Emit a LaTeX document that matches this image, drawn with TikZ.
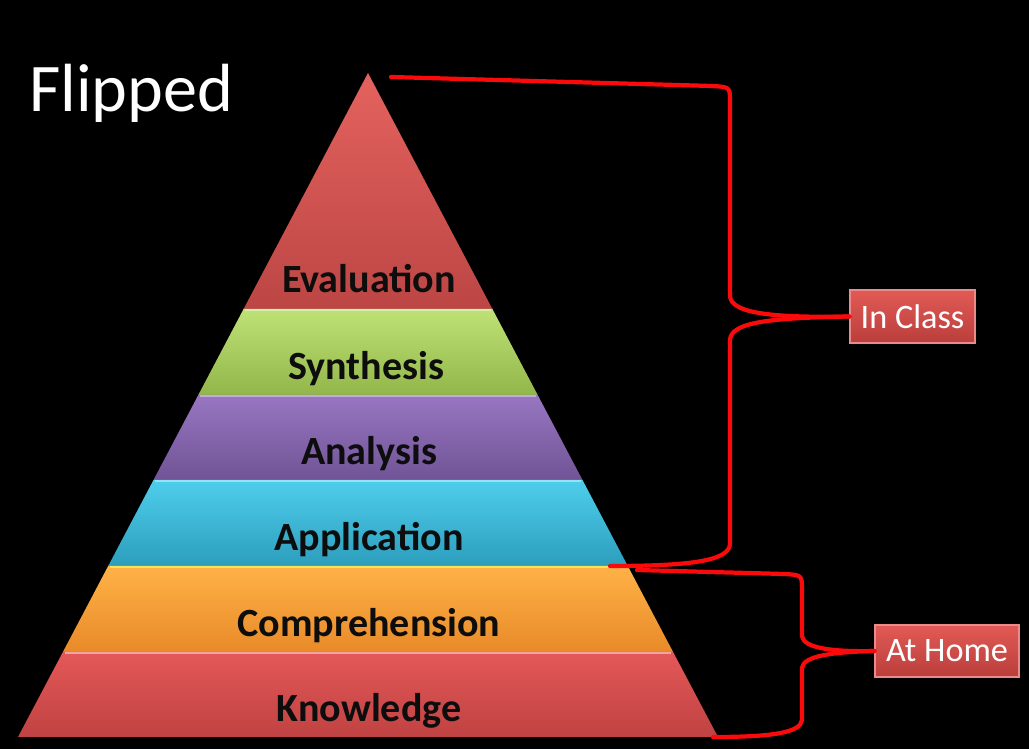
\documentclass[tikz,border=0pt]{standalone}
\usepackage{fontspec}
\setmainfont{Carlito}
\usetikzlibrary{calc}

\definecolor{evalTop}{RGB}{228,98,94}
\definecolor{evalBot}{RGB}{188,70,68}
\definecolor{synTop}{RGB}{190,226,118}
\definecolor{synBot}{RGB}{146,182,74}
\definecolor{anaTop}{RGB}{152,118,194}
\definecolor{anaBot}{RGB}{112,84,150}
\definecolor{appTop}{RGB}{78,206,236}
\definecolor{appBot}{RGB}{44,158,188}
\definecolor{comTop}{RGB}{255,178,72}
\definecolor{comBot}{RGB}{232,138,40}
\definecolor{knoTop}{RGB}{228,88,88}
\definecolor{knoBot}{RGB}{192,66,66}
\definecolor{tagTop}{RGB}{226,90,86}
\definecolor{tagBot}{RGB}{186,62,60}
\definecolor{braceRed}{RGB}{250,10,10}

\begin{document}
\begin{tikzpicture}[x=0.02cm,y=-0.02cm,
  tierlabel/.style={font=\bfseries\fontsize{22.8}{26}\selectfont, text=black!95, anchor=base},
  bevel/.style={line width=1.2pt},
  tag/.style={top color=tagTop, bottom color=tagBot, draw=tagTop!70!white, line width=0.6pt,
    text=white, font=\fontsize{19.5}{23}\selectfont, inner sep=0pt},
  brace/.style={draw=braceRed, line width=2.4pt, line join=round, line cap=round}]
			%%%%% START %%%%%
			
			\fill[black] (0, 0) rectangle (1029, 749);
			
			% pyramid tiers
			\shade[top color=evalTop, bottom color=evalBot] (368, 73) -- (492.4, 309) -- (243.6, 309) -- cycle;
			\shade[top color=synTop, bottom color=synBot] (243.6, 309) -- (492.4, 309) -- (537.7, 395) -- (198.3, 395) -- cycle;
			\draw[bevel, color=synTop!60!white] (245, 310) -- (491, 310);
			\shade[top color=anaTop, bottom color=anaBot] (198.3, 395) -- (537.7, 395) -- (582.5, 480) -- (153.5, 480) -- cycle;
			\draw[bevel, color=anaTop!60!white] (200, 396) -- (536, 396);
			\shade[top color=appTop, bottom color=appBot] (153.5, 480) -- (582.5, 480) -- (627.8, 566) -- (108.2, 566) -- cycle;
			\draw[bevel, color=appTop!60!white] (155, 481) -- (581, 481);
			\shade[top color=comTop, bottom color=comBot] (108.2, 566) -- (627.8, 566) -- (673.1, 652) -- (62.9, 652) -- cycle;
			\draw[bevel, color=comTop!50!yellow!80!white] (110, 567) -- (626, 567);
			\shade[top color=knoTop, bottom color=knoBot] (62.9, 652) -- (673.1, 652) -- (718, 737) -- (18, 737) -- cycle;
			\draw[bevel, color=knoTop!55!white] (65, 653) -- (671, 653);
			
			\node[tierlabel] (evaluation) at (369, 293) {Evaluation};
			\node[tierlabel] (synthesis) at (366, 380) {Synthesis};
			\node[tierlabel] (analysis) at (369, 465) {Analysis};
			\node[tierlabel] (application) at (369, 551) {Application};
			\node[tierlabel] (comprehension) at (369, 637) {Comprehension};
			\node[tierlabel] (knowledge) at (369, 722) {Knowledge};
			
			\node[anchor=base west, text=white, font=\fontsize{38.8}{44}\selectfont, inner sep=0pt] (title) at (29, 112) {Flipped};
			
			% tags
			\node[tag, minimum width=2.5cm, minimum height=1.06cm] (inclass) at (912.5, 316.5) {In Class};
			\node[tag, minimum width=2.88cm, minimum height=1.04cm] (athome) at (947, 651) {At Home};
			
			% brace ends
			\coordinate (apexR) at (391, 77);
			\coordinate (appR) at (610, 566);
			\coordinate (comR) at (637, 570);
			\coordinate (knoR) at (713, 737);
			
			\draw[brace] (apexR) -- (712, 86) .. controls (730, 87) .. (730, 102) -- (730, 296)
			  .. controls (731, 313) and (770, 318) .. (inclass.west);
			\draw[brace] (inclass.west) .. controls (770, 318) and (731, 322) .. (730, 340) -- (730, 544)
			  .. controls (729, 561) and (690, 566) .. (appR);
			\draw[brace] (comR) -- (784, 574) .. controls (802, 575) .. (802, 590) -- (802, 636)
			  .. controls (803, 648) and (832, 652) .. (athome.west);
			\draw[brace] (athome.west) .. controls (832, 652) and (803, 656) .. (802, 668) -- (802, 720)
			  .. controls (801, 733) and (770, 737) .. (knoR);
			
			%%%%% END %%%%%
\end{tikzpicture}
\end{document}
